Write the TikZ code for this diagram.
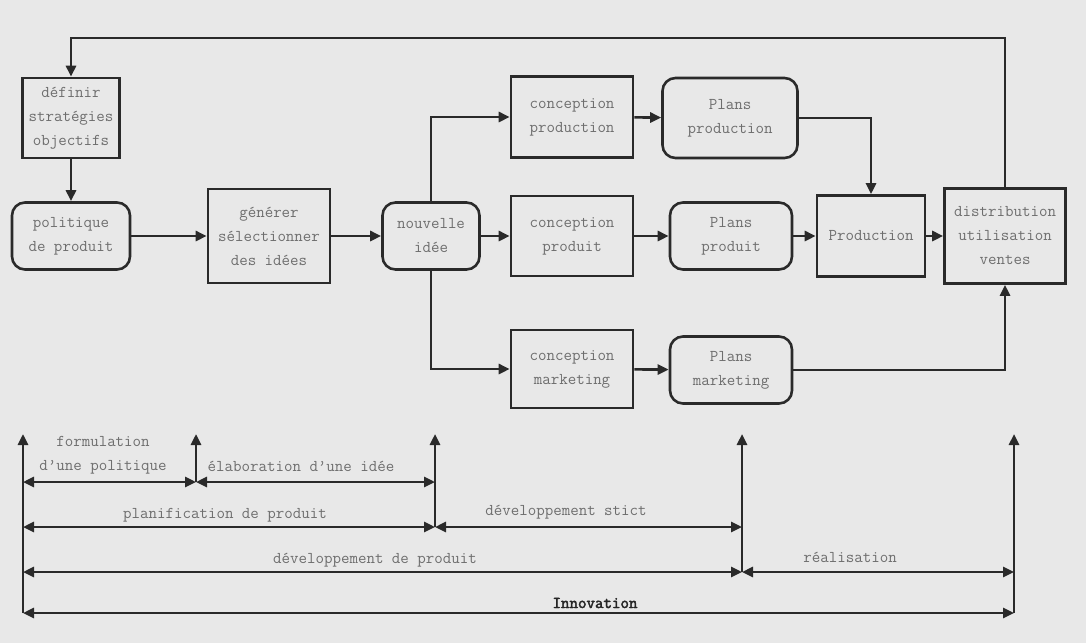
\documentclass[tikz,border=0pt]{standalone}
\usepackage{fontspec}
\newfontfamily\innofont[FakeBold=2.5]{Latin Modern Mono}
\usetikzlibrary{arrows.meta}
\definecolor{bg}{HTML}{E8E8E8}
\definecolor{ln}{HTML}{2A2A2A}
\definecolor{tx}{HTML}{6E6E6E}
\begin{document}
\begin{tikzpicture}[x=1pt,y=-1pt,
 every node/.style={font=\ttfamily\fontsize{16.5}{24}\selectfont, text=tx, align=center},
 box/.style={draw=ln, line width=2.6pt, rectangle, inner sep=0pt},
 rbox/.style={box, rounded corners=13pt},
 arr/.style={draw=ln, line width=2.6pt, -{Triangle[length=11pt,width=10pt]}},
 darr/.style={draw=ln, line width=2.6pt, {Triangle[length=11pt,width=10pt]}-{Triangle[length=11pt,width=10pt]}},
 lbl/.style={inner sep=0pt}
]
\fill[bg] (0,0) rectangle (1086,643);
\useasboundingbox (0,0) rectangle (1086,643);

% boxes
\node[box, minimum width=97pt, minimum height=80pt] (def) at (71,118) {définir\\stratégies\\objectifs};
\node[rbox, minimum width=118pt, minimum height=67pt] (pol) at (71,236) {politique\\de produit};
\node[box, minimum width=122pt, minimum height=94pt] (gen) at (269,236) {générer\\sélectionner\\des idées};
\node[rbox, minimum width=97pt, minimum height=67pt] (nouv) at (431,236) {nouvelle\\idée};
\node[box, minimum width=122pt, minimum height=81pt] (cpn) at (572,117) {conception\\production};
\node[box, minimum width=122pt, minimum height=80pt] (cpd) at (572,236) {conception\\produit};
\node[box, minimum width=122pt, minimum height=78pt] (cmk) at (572,369) {conception\\marketing};
\node[rbox, minimum width=135pt, minimum height=80pt] (ppn) at (730,118) {Plans\\production};
\node[rbox, minimum width=122pt, minimum height=67pt] (ppd) at (731,236) {Plans\\produit};
\node[rbox, minimum width=122pt, minimum height=67pt] (pmk) at (731,370) {Plans\\marketing};
\node[box, minimum width=108pt, minimum height=81pt] (prod) at (871,236) {Production};
\node[box, minimum width=121pt, minimum height=95pt] (dist) at (1005,236) {distribution\\utilisation\\ventes};

% connectors
\coordinate (top) at (0,38);
\draw[arr] (dist.north) -- (dist.north |- top) -- (def.north |- top) -- (def.north);
\draw[arr] (def) -- (pol);
\draw[arr] (pol) -- (gen);
\draw[arr] (gen) -- (nouv);
\draw[arr] (nouv.north) |- (cpn.west);
\draw[arr] (nouv) -- (cpd);
\draw[arr] (nouv.south) |- (cmk.west);
\draw[arr] (cpn) -- (ppn);
\draw[arr] (cpd) -- (ppd);
\draw[arr] (cmk) -- (pmk);
\draw[arr] (ppn.east) -| (prod.north);
\draw[arr] (ppd) -- (prod);
\draw[arr] (prod) -- (dist);
\draw[arr] (pmk.east) -| (dist.south);

% timeline
\coordinate (v0t) at (23,434);  \coordinate (v0b) at (23,613);
\coordinate (v1t) at (196,434); \coordinate (v1b) at (196,482);
\coordinate (v2t) at (435,434); \coordinate (v2b) at (435,527);
\coordinate (v3t) at (742,434); \coordinate (v3b) at (742,572);
\coordinate (v4t) at (1014,434); \coordinate (v4b) at (1014,613);

\draw[arr] (v0b) -- (v0t);
\draw[arr] (v1b) -- (v1t);
\draw[arr] (v2b) -- (v2t);
\draw[arr] (v3b) -- (v3t);
\draw[arr] (v4b) -- (v4t);

\draw[darr] (v0t |- v1b) -- (v1b);
\draw[darr] (v1b) -- (v2t |- v1b);
\draw[darr] (v0t |- v2b) -- (v2b);
\draw[darr] (v2b) -- (v3t |- v2b);
\draw[darr] (v0t |- v3b) -- (v3b);
\draw[darr] (v3b) -- (v4t |- v3b);
\draw[darr] (v0t |- v4b) -- (v4b);

\node[lbl] (lform) at (103,455) {formulation\\d’une politique};
\node[lbl] (lelab) at (301,466) {élaboration d’une idée};
\node[lbl] (lplan) at (225,515) {planification de produit};
\node[lbl] (ldevs) at (566,512) {développement stict};
\node[lbl] (ldevp) at (375,560) {développement de produit};
\node[lbl] (lreal) at (850,557) {réalisation};
\node[lbl, text=black!85, font=\innofont\fontsize{16.5}{24}\selectfont] (linno) at (595,603) {Innovation};
\end{tikzpicture}
\end{document}
